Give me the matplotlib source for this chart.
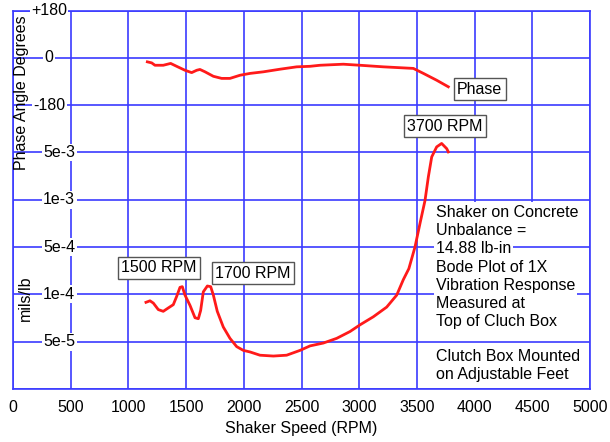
import numpy as np
import matplotlib.pyplot as plt

plt.rcParams['font.family'] = ['Liberation Sans', 'DejaVu Sans']
FS = 11.5

# Phase trace (RPM, degrees)
phase_rpm = [1164, 1202, 1230, 1302, 1366, 1418, 1490, 1548, 1592, 1620, 1664, 1736,
             1808, 1880, 1967, 2054, 2169, 2314, 2458, 2574, 2660, 2862, 3007, 3209,
             3469, 3556, 3671, 3772]
phase_deg = [-15, -19, -28, -28, -21, -32, -47, -56, -47, -44, -53, -70,
             -78, -78, -66, -59, -53, -43, -34, -32, -28, -24, -28, -34,
             -40, -59, -85, -110]

# 1X amplitude trace (RPM, mils/lb)
amp_rpm = [1152, 1187, 1216, 1259, 1302, 1346, 1389, 1418, 1447, 1467, 1490, 1534,
           1577, 1606, 1626, 1649, 1684, 1713, 1736, 1770, 1822, 1880, 1938, 1996,
           2054, 2140, 2256, 2371, 2487, 2574, 2689, 2805, 2920, 3007, 3122, 3238,
           3325, 3382, 3430, 3483, 3527, 3570, 3599, 3628, 3671, 3714, 3758, 3772]
amp_val = [8.9e-5, 9.1e-5, 8.8e-5, 8.0e-5, 7.8e-5, 8.2e-5, 8.6e-5, 9.7e-5, 1.27e-4, 1.30e-4,
           9.9e-5, 8.5e-5, 7.1e-5, 7.0e-5, 7.9e-5, 1.09e-4, 1.33e-4, 1.30e-4, 9.9e-5, 7.8e-5,
           6.2e-5, 5.25e-5, 4.65e-5, 4.4e-5, 4.3e-5, 4.1e-5, 4.05e-5, 4.1e-5, 4.4e-5, 4.7e-5,
           4.9e-5, 5.25e-5, 5.8e-5, 6.4e-5, 7.2e-5, 8.3e-5, 9.9e-5, 1.65e-4, 2.4e-4, 5.0e-4,
           7.1e-4, 9.9e-4, 2.19e-3, 4.3e-3, 6.05e-3, 6.8e-3, 5.7e-3, 5.1e-3]

x_ticks = np.arange(0, 5001, 500)
phase_ticks = ['+180', '0', '-180']
amp_ticks = ['5e-3', '1e-3', '5e-4', '1e-4', '5e-5']

# grid rows: amplitude scale on rows 0..6, phase on rows 6..8
amp_anchor_val = [2.5e-5, 5e-5, 1e-4, 5e-4, 1e-3, 5e-3, 2.5e-2]
amp_anchor_row = [0, 1, 2, 3, 4, 5, 6]


def phase_row(deg):
    return 7 + np.asarray(deg) / 180.0


def amp_row(val):
    return np.interp(np.log10(val), np.log10(amp_anchor_val), amp_anchor_row)


blue = '#3b3bff'
red = '#ff1a1a'
fig = plt.figure(figsize=(6.1, 4.42), dpi=100)
ax = fig.add_axes([0.0213, 0.12, 0.946, 0.856])
ax.set_xlim(0, 5000)
ax.set_ylim(0, 8)

for xv in x_ticks:
    ax.axvline(xv, color=blue, lw=1.2, zorder=1)
# white panel behind the notes (hides the vertical grid only)
ax.fill_between([3640, 4800], 0, 3.95, color='white', lw=0, zorder=1.5)
for r in range(9):
    ax.axhline(r, color=blue, lw=1.2, zorder=2)
for s in ax.spines.values():
    s.set_color(blue)
    s.set_linewidth(1.2)

ax.set_xticks(x_ticks)
ax.set_xticklabels([str(v) for v in x_ticks], fontsize=FS)
ax.tick_params(axis='x', length=0, pad=8)
ax.set_yticks([])

lbl_box = dict(facecolor='white', edgecolor='none', pad=1.0)
for row, t in zip([8, 7, 6], phase_ticks):
    ax.text(312, row, t, ha='center', va='center', fontsize=FS, bbox=lbl_box, zorder=4)
for row, t in zip([5, 4, 3, 2, 1], amp_ticks):
    ax.text(400, row, t, ha='center', va='center', fontsize=FS, bbox=lbl_box, zorder=4)

ax.plot(phase_rpm, phase_row(phase_deg), color=red, lw=2.0, zorder=5)
ax.plot(amp_rpm, amp_row(amp_val), color=red, lw=2.0, zorder=5)

tag_box = dict(facecolor='white', edgecolor='#555555', lw=1.0, pad=2.5)
ax.text(4045, 6.34, 'Phase', ha='center', va='center', fontsize=FS, bbox=tag_box, zorder=6)
ax.text(3744, 5.56, '3700 RPM', ha='center', va='center', fontsize=FS, bbox=tag_box, zorder=6)
ax.text(1265, 2.56, '1500 RPM', ha='center', va='center', fontsize=FS, bbox=tag_box, zorder=6)
ax.text(2080, 2.45, '1700 RPM', ha='center', va='center', fontsize=FS, bbox=tag_box, zorder=6)

notes = ['Shaker on Concrete', 'Unbalance =', '14.88 lb-in', 'Bode Plot of 1X',
         'Vibration Response', 'Measured at', 'Top of Cluch Box']
note_box = dict(facecolor='white', edgecolor='none', pad=1.5)
for i, line in enumerate(notes):
    ax.text(3665, 3.73 - i * 0.385, line, ha='left', va='center', fontsize=FS,
            bbox=note_box, zorder=4)
ax.text(3665, 0.84, 'Clutch Box Mounted\non Adjustable Feet', ha='left', va='top',
        fontsize=FS, linespacing=1.2,
        bbox=dict(facecolor='white', edgecolor='none', pad=3.5), zorder=4)

fig.text(0.036, 0.79, 'Phase Angle Degrees', rotation=90, ha='center', va='center',
         fontsize=FS)
fig.text(0.041, 0.326, 'mils/lb', rotation=90, ha='center', va='center', fontsize=FS)
ax.set_xlabel('Shaker Speed (RPM)', fontsize=FS, labelpad=4)

fig.savefig('out.png', dpi=100)
